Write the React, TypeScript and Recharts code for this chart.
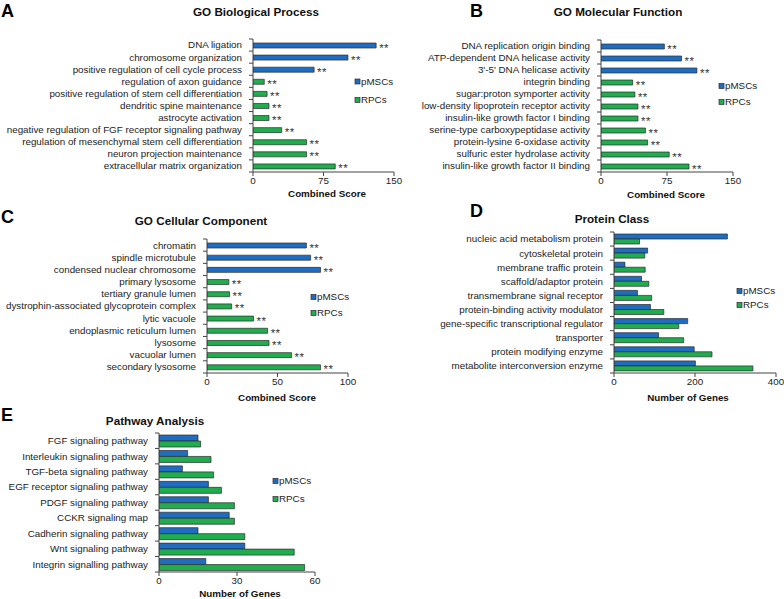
import React from "react";
import { BarChart, Bar, XAxis, YAxis, Cell, LabelList } from "recharts";

const BLUE = "#1f6dc2";
const GREEN = "#20ad4e";
const FONT = "'Liberation Sans', Arial, sans-serif";
const FS = 9.8;

// A - GO Biological Process
const bpTerms = [
  "DNA ligation",
  "chromosome organization",
  "positive regulation of cell cycle process",
  "regulation of axon guidance",
  "positive regulation of stem cell differentiation",
  "dendritic spine maintenance",
  "astrocyte activation",
  "negative regulation of FGF receptor signaling pathway",
  "regulation of mesenchymal stem cell differentiation",
  "neuron projection maintenance",
  "extracellular matrix organization",
];
const bpScores = [131, 101, 65, 12, 15, 17, 17, 30.5, 57, 57, 87.5];
const bpGroup = ["pMSCs", "pMSCs", "pMSCs", "RPCs", "RPCs", "RPCs", "RPCs", "RPCs", "RPCs", "RPCs", "RPCs"];

// B - GO Molecular Function
const mfTerms = [
  "DNA replication origin binding",
  "ATP-dependent DNA helicase activity",
  "3'-5' DNA helicase activity",
  "integrin binding",
  "sugar:proton symporter activity",
  "low-density lipoprotein receptor activity",
  "insulin-like growth factor I binding",
  "serine-type carboxypeptidase activity",
  "protein-lysine 6-oxidase activity",
  "sulfuric ester hydrolase activity",
  "insulin-like growth factor II binding",
];
const mfScores = [72, 91.5, 109, 36, 38.5, 42, 42, 50.5, 53, 77.5, 100];
const mfGroup = ["pMSCs", "pMSCs", "pMSCs", "RPCs", "RPCs", "RPCs", "RPCs", "RPCs", "RPCs", "RPCs", "RPCs"];

// C - GO Cellular Component
const ccTerms = [
  "chromatin",
  "spindle microtubule",
  "condensed nuclear chromosome",
  "primary lysosome",
  "tertiary granule lumen",
  "dystrophin-associated glycoprotein complex",
  "lytic vacuole",
  "endoplasmic reticulum lumen",
  "lysosome",
  "vacuolar lumen",
  "secondary lysosome",
];
const ccScores = [70.5, 73.5, 80.5, 15.5, 16, 17.5, 33, 43, 44, 60, 80.5];
const ccGroup = ["pMSCs", "pMSCs", "pMSCs", "RPCs", "RPCs", "RPCs", "RPCs", "RPCs", "RPCs", "RPCs", "RPCs"];

// D - Protein Class
const pcClasses = [
  "nucleic acid metabolism protein",
  "cytoskeletal protein",
  "membrane traffic protein",
  "scaffold/adaptor protein",
  "transmembrane signal receptor",
  "protein-binding activity modulator",
  "gene-specific transcriptional regulator",
  "transporter",
  "protein modifying enzyme",
  "metabolite interconversion enzyme",
];
const pcMSC = [280, 83, 27, 68, 58, 90, 182, 110, 198, 201];
const pcRPC = [63, 76, 77, 86, 93, 123, 160, 172, 242, 343];

// E - Pathway Analysis
const pwNames = [
  "FGF signaling pathway",
  "Interleukin signaling pathway",
  "TGF-beta signaling pathway",
  "EGF receptor signaling pathway",
  "PDGF signaling pathway",
  "CCKR signaling map",
  "Cadherin signaling pathway",
  "Wnt signaling pathway",
  "Integrin signalling pathway",
];
const pwMSC = [15, 11, 9, 19, 19, 27, 15, 33, 18];
const pwRPC = [16, 20, 21, 24, 29, 29, 33, 52, 56];

interface Box {
  chartLeft: number;
  plotLeft: number;
  plotRight: number;
  plotTop: number;
  plotBottom: number;
}

const TOP_PAD = 6;
const X_AXIS_H = 16;
const RIGHT_PAD = 10;

// category labels plus Excel-style ticks between categories
function makeTick(axisX: number, band: number, first: string) {
  return (props: any) => {
    const { y, payload } = props;
    return (
      <g>
        <text x={axisX - 11} y={y} dy="0.35em" textAnchor="end" fontSize={FS} fill="#222" fontFamily={FONT}>
          {payload.value}
        </text>
        <line x1={axisX - 4} x2={axisX} y1={y + band / 2} y2={y + band / 2} stroke="#444" />
        {payload.value === first && (
          <line x1={axisX - 4} x2={axisX} y1={y - band / 2} y2={y - band / 2} stroke="#444" />
        )}
      </g>
    );
  };
}

const Stars = (props: any) => {
  const { x, y, width, height } = props;
  return (
    <text x={x + width + 3} y={y + height / 2} dy={6} fontSize={11.5} fill="#333" fontFamily={FONT} letterSpacing={0.5}>
      **
    </text>
  );
};

function chartSize(b: Box) {
  const yW = b.plotLeft - b.chartLeft;
  const width = b.plotRight - b.chartLeft + RIGHT_PAD;
  const height = TOP_PAD + (b.plotBottom - b.plotTop) + X_AXIS_H;
  return { yW, width, height };
}

function xAxisFor(max: number, ticks: number[]) {
  return (
    <XAxis
      type="number"
      domain={[0, max]}
      ticks={ticks}
      height={X_AXIS_H}
      tickSize={4}
      tickMargin={1}
      axisLine={{ stroke: "#444" }}
      tickLine={{ stroke: "#444" }}
      tick={{ fontSize: FS, fill: "#222", fontFamily: FONT }}
      allowDataOverflow
    />
  );
}

function SinglePanel({ box, terms, scores, groups, max, ticks }: {
  box: Box; terms: string[]; scores: number[]; groups: string[]; max: number; ticks: number[];
}) {
  const data = terms.map((name, i) => ({ name, score: scores[i], group: groups[i] }));
  const { yW, width, height } = chartSize(box);
  const band = (box.plotBottom - box.plotTop) / terms.length;
  return (
    <div style={{ position: "absolute", left: box.chartLeft, top: box.plotTop - TOP_PAD }}>
      <BarChart
        width={width}
        height={height}
        data={data}
        layout="vertical"
        margin={{ top: TOP_PAD, right: RIGHT_PAD, left: 0, bottom: 0 }}
      >
        {xAxisFor(max, ticks)}
        <YAxis
          type="category"
          dataKey="name"
          width={yW}
          interval={0}
          tickLine={false}
          axisLine={{ stroke: "#444" }}
          tick={makeTick(yW, band, terms[0])}
        />
        <Bar dataKey="score" barSize={5} stroke="#2b2b2b" strokeWidth={0.7} isAnimationActive={false}>
          {data.map((d, i) => (
            <Cell key={i} fill={d.group === "pMSCs" ? BLUE : GREEN} />
          ))}
          <LabelList dataKey="score" content={<Stars />} />
        </Bar>
      </BarChart>
    </div>
  );
}

function PairPanel({ box, names, msc, rpc, max, ticks, barSize }: {
  box: Box; names: string[]; msc: number[]; rpc: number[]; max: number; ticks: number[]; barSize: number;
}) {
  const data = names.map((name, i) => ({ name, pMSCs: msc[i], RPCs: rpc[i] }));
  const { yW, width, height } = chartSize(box);
  const band = (box.plotBottom - box.plotTop) / names.length;
  return (
    <div style={{ position: "absolute", left: box.chartLeft, top: box.plotTop - TOP_PAD }}>
      <BarChart
        width={width}
        height={height}
        data={data}
        layout="vertical"
        barGap={0}
        margin={{ top: TOP_PAD, right: RIGHT_PAD, left: 0, bottom: 0 }}
      >
        {xAxisFor(max, ticks)}
        <YAxis
          type="category"
          dataKey="name"
          width={yW}
          interval={0}
          tickLine={false}
          axisLine={{ stroke: "#444" }}
          tick={makeTick(yW, band, names[0])}
        />
        <Bar dataKey="pMSCs" fill={BLUE} barSize={barSize} stroke="#2b2b2b" strokeWidth={0.7} isAnimationActive={false} />
        <Bar dataKey="RPCs" fill={GREEN} barSize={barSize} stroke="#2b2b2b" strokeWidth={0.7} isAnimationActive={false} />
      </BarChart>
    </div>
  );
}

function LegendBox({ x, y1, y2 }: { x: number; y1: number; y2: number }) {
  return (
    <g fontFamily={FONT} fontSize={FS} fill="#222">
      <rect x={x} y={y1 - 2.5} width={5} height={5} fill={BLUE} stroke="#2b2b2b" strokeWidth={0.7} />
      <text x={x + 6} y={y1} dy="0.35em">pMSCs</text>
      <rect x={x} y={y2 - 2.5} width={5} height={5} fill={GREEN} stroke="#2b2b2b" strokeWidth={0.7} />
      <text x={x + 6} y={y2} dy="0.35em">RPCs</text>
    </g>
  );
}

export default function App() {
  return (
    <div style={{ position: "absolute", left: 0, top: 0, width: 784, height: 599, background: "#fff", fontFamily: FONT }}>
      <SinglePanel
        box={{ chartLeft: 0, plotLeft: 253, plotRight: 394, plotTop: 39, plotBottom: 172 }}
        terms={bpTerms} scores={bpScores} groups={bpGroup} max={150} ticks={[0, 75, 150]}
      />
      <SinglePanel
        box={{ chartLeft: 400, plotLeft: 601, plotRight: 733, plotTop: 40, plotBottom: 172 }}
        terms={mfTerms} scores={mfScores} groups={mfGroup} max={150} ticks={[0, 75, 150]}
      />
      <SinglePanel
        box={{ chartLeft: 0, plotLeft: 207, plotRight: 348, plotTop: 239, plotBottom: 373 }}
        terms={ccTerms} scores={ccScores} groups={ccGroup} max={100} ticks={[0, 50, 100]}
      />
      <PairPanel
        box={{ chartLeft: 400, plotLeft: 614, plotRight: 776, plotTop: 232, plotBottom: 373 }}
        names={pcClasses} msc={pcMSC} rpc={pcRPC} max={400} ticks={[0, 200, 400]} barSize={5}
      />
      <PairPanel
        box={{ chartLeft: 0, plotLeft: 159, plotRight: 315, plotTop: 433, plotBottom: 572 }}
        names={pwNames} msc={pwMSC} rpc={pwRPC} max={60} ticks={[0, 30, 60]} barSize={6}
      />
      <svg width={784} height={599} style={{ position: "absolute", left: 0, top: 0, pointerEvents: "none" }}>
        <g fontFamily={FONT} fontWeight="bold" fontSize={18} fill="#000">
          <text x={1} y={17}>A</text>
          <text x={470} y={17}>B</text>
          <text x={1} y={223}>C</text>
          <text x={470} y={217}>D</text>
          <text x={1} y={421}>E</text>
        </g>
        <g fontFamily={FONT} fontWeight="bold" fontSize={11.7} fill="#111" textAnchor="middle">
          <text x={256} y={15.5}>GO Biological Process</text>
          <text x={618} y={15.5}>GO Molecular Function</text>
          <text x={201} y={225}>GO Cellular Component</text>
          <text x={612} y={223}>Protein Class</text>
          <text x={155} y={425}>Pathway Analysis</text>
        </g>
        <g fontFamily={FONT} fontWeight="bold" fontSize={FS} fill="#111" textAnchor="middle">
          <text x={327} y={197}>Combined Score</text>
          <text x={666} y={198}>Combined Score</text>
          <text x={277} y={401}>Combined Score</text>
          <text x={688} y={401}>Number of Genes</text>
          <text x={240} y={597}>Number of Genes</text>
        </g>
        <LegendBox x={355} y1={81.5} y2={100} />
        <LegendBox x={719} y1={86} y2={102} />
        <LegendBox x={311} y1={297} y2={313} />
        <LegendBox x={737} y1={291} y2={305} />
        <LegendBox x={273} y1={481} y2={499} />
      </svg>
    </div>
  );
}
